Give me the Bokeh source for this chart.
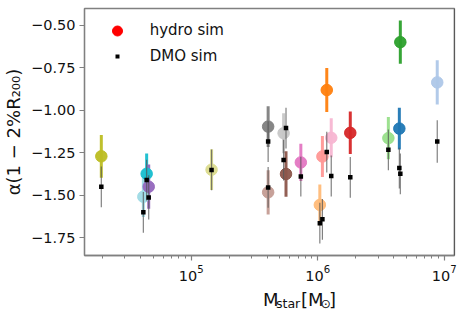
import numpy as np
from bokeh.plotting import figure
from bokeh.layouts import column
from bokeh.models import (Range1d, FixedTicker, CustomJSTickFormatter, Legend, LegendItem,
                          Span, ColumnDataSource)
from bokeh.core.properties import value
from bokeh.embed import file_html
from bokeh.resources import INLINE

# ---------------- data ----------------
colors = ["#bcbd22", "#9edae5", "#17becf", "#9467bd", "#dbdb8d", "#7f7f7f", "#c49c94",
          "#c7c7c7", "#8c564b", "#e377c2", "#ffbb78", "#ff9896", "#ff7f0e", "#f7b6d2",
          "#d62728", "#98df8a", "#1f77b4", "#2ca02c", "#aec7e8"]
mstar = [1.95e4, 4.19e4, 4.45e4, 4.62e4, 1.45e5, 4.06e5, 4.06e5, 5.38e5, 5.62e5, 7.36e5,
         1.04e6, 1.09e6, 1.18e6, 1.28e6, 1.81e6, 3.62e6, 4.42e6, 4.50e6, 8.81e6]
alpha_hydro = [-1.27, -1.508, -1.373, -1.449, -1.349, -1.095, -1.482, -1.134, -1.374, -1.306,
               -1.556, -1.271, -0.880, -1.161, -1.132, -1.163, -1.107, -0.598, -0.835]
err_hydro = [0.126, 0.12, 0.12, 0.13, 0.12, 0.12, 0.13, 0.118, 0.134, 0.11,
             0.12, 0.121, 0.13, 0.115, 0.125, 0.124, 0.123, 0.127, 0.13]
alpha_dmo = [-1.45, -1.60, -1.41, -1.512, -1.35, -1.183, -1.453, -1.292, -1.104, -1.389,
             -1.664, -1.641, -1.245, -1.386, -1.394, -1.232, -1.339, -1.373, -1.183]
err_dmo = [0.12, 0.12, 0.12, 0.13, 0.12, 0.12, 0.12, 0.12, 0.12, 0.117,
           0.12, 0.12, 0.12, 0.12, 0.12, 0.12, 0.12, 0.12, 0.125]
y_ticks = [-1.75, -1.5, -1.25, -1.0, -0.75, -0.5]

x_start, x_end = 1.436e4, 1.206e7
y_start, y_end = -1.854, -0.400

FONT = "DejaVu Sans"
TXT = "#111111"

src = ColumnDataSource(dict(
    x=mstar, c=colors,
    yh=alpha_hydro,
    yh_lo=[a - e for a, e in zip(alpha_hydro, err_hydro)],
    yh_hi=[a + e for a, e in zip(alpha_hydro, err_hydro)],
    yd=alpha_dmo,
    yd_lo=[a - e for a, e in zip(alpha_dmo, err_dmo)],
    yd_hi=[a + e for a, e in zip(alpha_dmo, err_dmo)],
))

TOP_H = 283
XL_H = 26

p = figure(width=464, height=TOP_H, x_axis_type="log",
           x_range=Range1d(x_start, x_end), y_range=Range1d(y_start, y_end),
           output_backend="svg", toolbar_location=None,
           min_border_left=80, min_border_right=10, min_border_top=8, min_border_bottom=27)
p.grid.visible = False
p.background_fill_color = "white"
p.border_fill_color = "white"
p.outline_line_color = "#808080"
p.outline_line_width = 1.3

# hydro
p.segment(x0="x", y0="yh_lo", x1="x", y1="yh_hi", source=src, line_color="c", line_width=3, line_alpha=0.95)
p.scatter(x="x", y="yh", source=src, size=11.5, marker="circle", fill_color="c", line_color="c", alpha=0.95)
# DMO
p.segment(x0="x", y0="yd_lo", x1="x", y1="yd_hi", source=src, line_color="#555555", line_width=1.2, line_alpha=0.75)
p.scatter(x="x", y="yd", source=src, size=4.5, marker="square", fill_color="black", line_color=None)

# right spine darker
p.add_layout(Span(location=x_end, dimension="height", line_color="#333333", line_width=1.3))

# axes
for ax in (p.xaxis[0], p.yaxis[0]):
    ax.axis_line_color = "#808080"
    ax.axis_line_width = 1.3
    ax.major_tick_line_color = "#808080"
    ax.major_tick_line_width = 1.2
    ax.major_tick_out = 5
    ax.major_tick_in = 0
    ax.minor_tick_line_color = "#808080"
    ax.minor_tick_out = 3
    ax.minor_tick_in = 0
    ax.major_label_text_font = FONT
    ax.major_label_text_font_size = "14.5px"
    ax.major_label_text_color = TXT
    ax.major_label_standoff = 4
p.yaxis.minor_tick_line_color = None
p.yaxis.ticker = FixedTicker(ticks=y_ticks)
p.yaxis.formatter = CustomJSTickFormatter(
    code="return (tick < 0 ? '\u2212' : '') + Math.abs(tick).toFixed(2);")
p.yaxis.axis_label = "\u03b1(1 \u2212 2%R\u2082\u2080\u2080)"
p.yaxis.axis_label_text_font = FONT
p.yaxis.axis_label_text_font_size = "18px"
p.yaxis.axis_label_text_font_style = "normal"
p.yaxis.axis_label_text_color = TXT
p.yaxis.axis_label_standoff = 4

# legends
nan = float("nan")
r_h = p.scatter(x=[nan], y=[nan], marker="circle", size=10, fill_color="red", line_color="red")
r_d = p.scatter(x=[nan], y=[nan], marker="square", size=4, fill_color="black", line_color=None)
common = dict(glyph_width=30, label_height=25, padding=0, margin=0, spacing=0, label_standoff=18,
              border_line_color=None, background_fill_alpha=0,
              label_text_font=FONT, label_text_font_size="15px", label_text_color=TXT)
leg1 = Legend(items=[LegendItem(label="hydro sim", renderers=[r_h])], location=(17.7, 212.5),
              glyph_height=25, **common)
leg2 = Legend(items=[LegendItem(label="DMO sim", renderers=[r_d])], location=(17.7, 186.8),
              glyph_height=10, **common)
p.add_layout(leg1)
p.add_layout(leg2)

# x label panel: M_star [M_sun]  (positions in pixels of this small panel)
xl = figure(width=464, height=XL_H, x_range=Range1d(0, 464), y_range=Range1d(0, XL_H),
            output_backend="svg", toolbar_location=None,
            x_axis_location=None, y_axis_location=None,
            min_border_left=0, min_border_right=0, min_border_top=0, min_border_bottom=0)
xl.grid.visible = False
xl.outline_line_color = None
xl.background_fill_color = "white"
xl.border_fill_color = "white"


def txt(x, y, s, size):
    xl.text(x=[x], y=[y], text=[s], text_align="left", text_baseline="alphabetic",
            text_font=value(FONT), text_font_size=value(size), text_color=TXT)


H = 309
txt(224, H - 299, "M", "18px")
txt(240, H - 302.5, "star", "12.6px")
txt(271.5, H - 299, "[M", "18px")
txt(296, H - 302.5, "\u2299", "12.6px")
txt(306.5, H - 299, "]", "18px")

layout = column(p, xl, spacing=0)
open("out.html", "w").write(file_html(layout, INLINE))
